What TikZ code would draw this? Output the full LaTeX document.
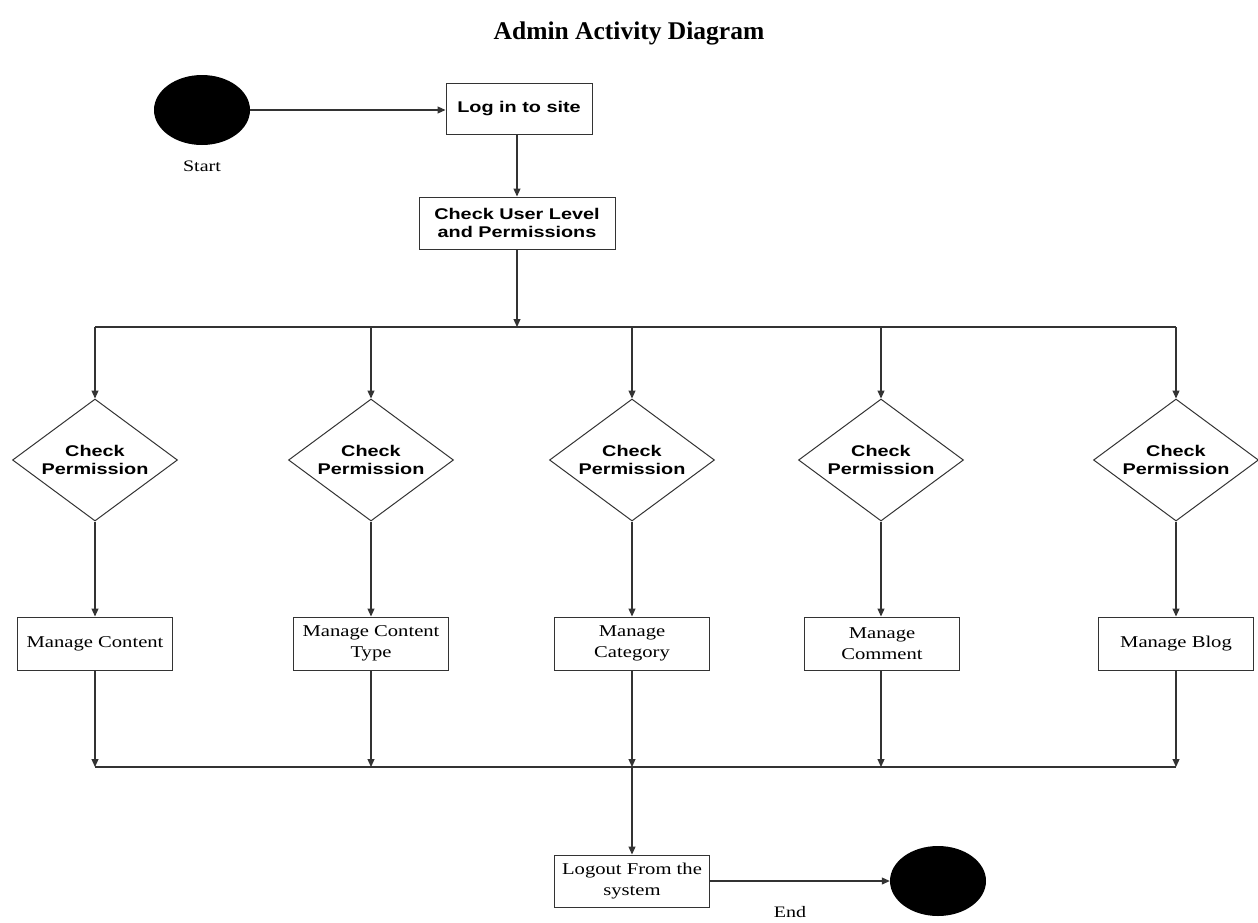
\documentclass[tikz,border=0pt]{standalone}
\usepackage{fontspec}
\usetikzlibrary{shapes.geometric,arrows.meta}
\setmainfont{Liberation Serif}
\newfontfamily\titlefont{Liberation Serif}
\newfontfamily\labsans[FakeStretch=1.28]{Liberation Sans}
\newfontfamily\labserif[FakeStretch=1.25]{Liberation Serif}
\definecolor{edge}{HTML}{333333}
\begin{document}
\begin{tikzpicture}[x=1pt,y=-1pt,
  every node/.style={inner sep=0pt},
  flow/.style={draw=edge, line width=1.1pt},
  arr/.style={flow, -{Triangle[length=8pt,width=7pt]}},
  actsans/.style={draw=edge, line width=1pt, fill=white, align=center,
    font=\labsans\bfseries\fontsize{15.5}{18.5}\selectfont},
  actserif/.style={draw=edge, line width=1pt, fill=white, align=center,
    minimum width=155pt, minimum height=53pt,
    font=\labserif\fontsize{16.5}{21}\selectfont},
  decision/.style={diamond, aspect=1.35, draw=edge, line width=1pt, align=center,
    minimum width=165pt, minimum height=122pt,
    font=\labsans\bfseries\fontsize{15.5}{18.5}\selectfont},
  terminal/.style={ellipse, fill=black, minimum width=96pt, minimum height=70pt},
  caption/.style={font=\labserif\fontsize{16}{18}\selectfont}
]
\useasboundingbox (0,0) rectangle (1258,922);

% heading
\node[anchor=base, font=\titlefont\bfseries\fontsize{25.5}{30}\selectfont] (title) at (629,39.5) {Admin Activity Diagram};

% start and login
\node[terminal] (start) at (202,110) {};
\node[caption] (startlbl) at (202,166) {Start};
\node[actsans, minimum width=146pt, minimum height=51pt] (login) at (519,108.5) {Log in to site};
\node[actsans, minimum width=196pt, minimum height=52pt] (level) at (517,223) {Check User Level\\and Permissions};

\draw[arr] (start) -- (login.west |- start);
\draw[arr] (login.south -| level.north) -- (level.north);

% fork bar
\coordinate (fork) at (517,327);
\coordinate (f1) at (95,327);
\coordinate (f2) at (371,327);
\coordinate (f3) at (632,327);
\coordinate (f4) at (881,327);
\coordinate (f5) at (1176,327);
\draw[arr] (level.south) -- (fork);
\draw[flow] (f1) -- (f5);

% permission checks
\node[decision] (d1) at (95,460) {Check\\Permission};
\node[decision] (d2) at (371,460) {Check\\Permission};
\node[decision] (d3) at (632,460) {Check\\Permission};
\node[decision] (d4) at (881,460) {Check\\Permission};
\node[decision] (d5) at (1176,460) {Check\\Permission};

% management activities
\node[actserif] (a1) at (95,643.5) {Manage Content};
\node[actserif] (a2) at (371,643.5) {Manage Content\\Type};
\node[actserif] (a3) at (632,643.5) {Manage\\Category};
\node[actserif] (a4) at (882,643.5) {Manage\\Comment};
\node[actserif] (a5) at (1176,643.5) {Manage Blog};

% join bar
\coordinate (j1) at (95,767);
\coordinate (j2) at (371,767);
\coordinate (j3) at (632,767);
\coordinate (j4) at (881,767);
\coordinate (j5) at (1176,767);
\draw[flow] (j1) -- (j5);

\foreach \i in {1,...,5}{
  \draw[arr] (f\i) -- (d\i.north);
  \draw[arr] (d\i.south) -- (d\i.south |- a\i.north);
  \draw[arr] (d\i.south |- a\i.south) -- (j\i);
}

% logout and end
\node[actserif, minimum height=52pt] (logout) at (632,881) {Logout From the\\system};
\node[terminal] (endnode) at (938,881) {};
\node[caption] (endlbl) at (790,912) {End};

\draw[arr] (j3) -- (logout.north);
\draw[arr] (logout.east) -- (endnode.west);
\end{tikzpicture}
\end{document}
